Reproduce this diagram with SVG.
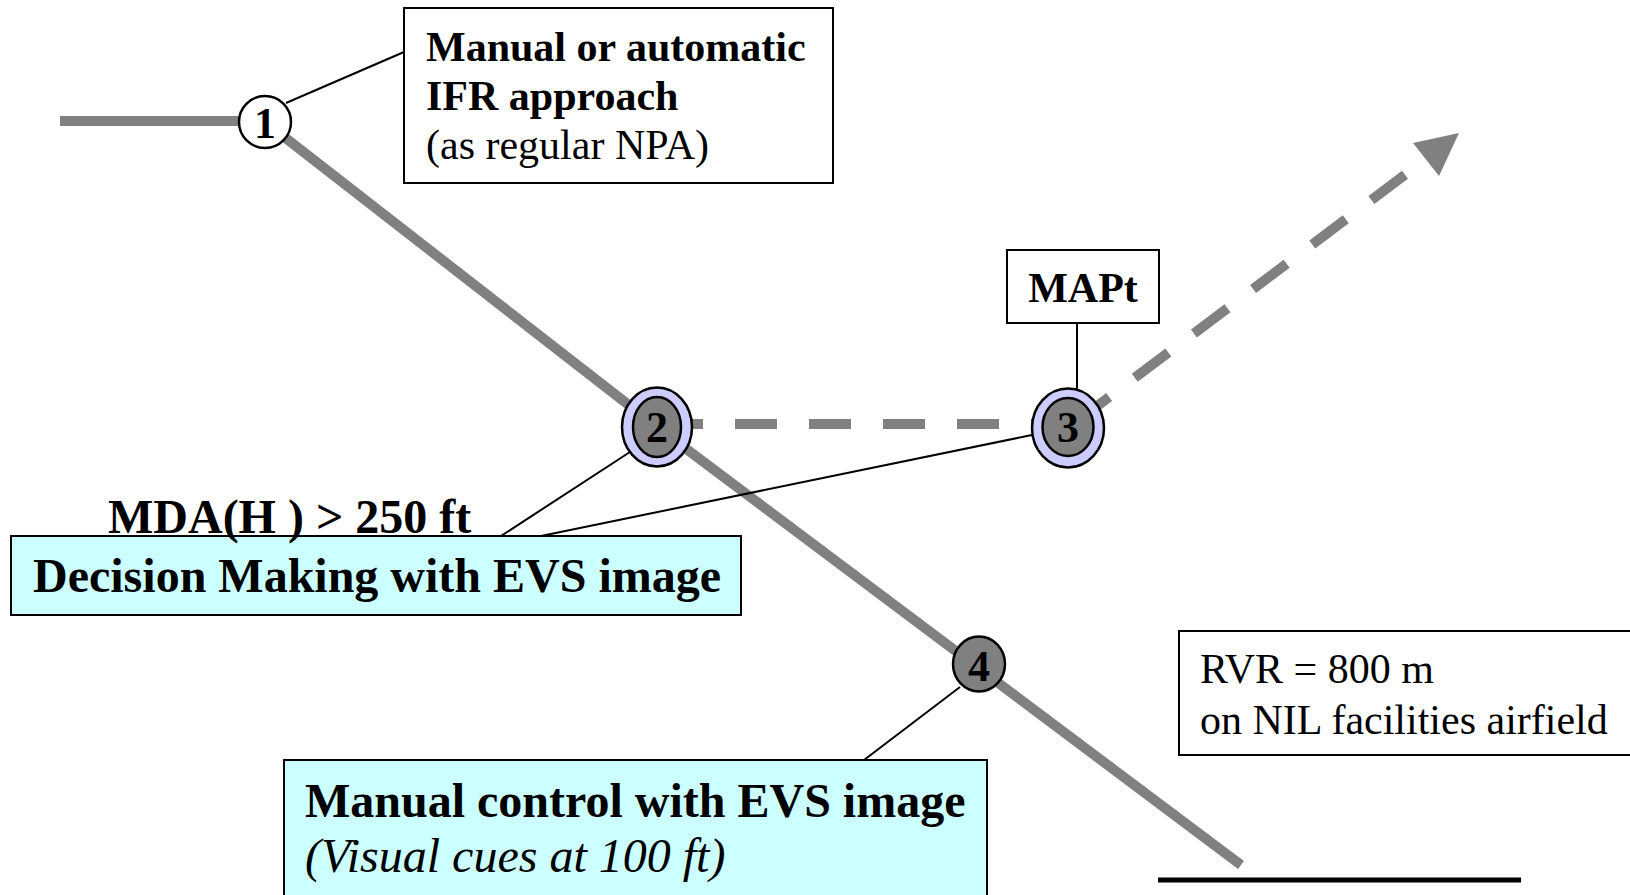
<svg xmlns="http://www.w3.org/2000/svg" width="1630" height="895" viewBox="0 0 1630 895">
<style>
.path{fill:none;stroke:#808080;stroke-width:10}
.dash{fill:none;stroke:#808080;stroke-width:10;stroke-dasharray:42 32}
.conn{fill:none;stroke:#000;stroke-width:2}
.box{fill:#fff;stroke:#000;stroke-width:2}
.cbox{fill:#CCFFFF;stroke:#000;stroke-width:2}
.t{font-family:"Liberation Serif","Times New Roman",serif;fill:#000}
.b{font-weight:bold}
.num{font-family:"Liberation Serif","Times New Roman",serif;font-weight:bold;font-size:44px;text-anchor:middle}
.outer{fill:#CCCCFF;stroke:#000;stroke-width:2.5}
.inner{fill:#808080;stroke:#000;stroke-width:2.5}
</style>
<rect width="1630" height="895" fill="#fff"/>
<g id="flight-path">
<line class="path" x1="60" y1="121" x2="245" y2="121"/>
<polyline class="path" points="265,122 657,427 1241,865"/>
<line x1="1158" y1="880" x2="1521" y2="880" stroke="#000" stroke-width="5"/>
</g>
<g id="connectors">
<line class="dash" x1="661" y1="424" x2="1040" y2="424"/>
<line class="dash" x1="1075.6" y1="422.3" x2="1426" y2="159"/>
<polygon points="1413,143 1459,133 1439,176" fill="#808080"/>
<line class="conn" x1="286" y1="103" x2="404" y2="52"/>
<line class="conn" x1="1077" y1="323" x2="1077" y2="390"/>
<line class="conn" x1="501" y1="536" x2="630" y2="452"/>
<line class="conn" x1="541" y1="536" x2="1032" y2="435"/>
<line class="conn" x1="864" y1="760" x2="960" y2="687"/>
</g>
<g id="node1">
<ellipse cx="265" cy="122" rx="26" ry="26" fill="#fff" stroke="#000" stroke-width="2.5"/>
<text class="num" x="265" y="138">1</text>
</g>
<g id="node2">
<ellipse class="outer" cx="657" cy="427" rx="35" ry="39.5"/>
<ellipse class="inner" cx="657" cy="427" rx="24" ry="30"/>
<text class="num" x="657" y="442">2</text>
</g>
<g id="node3">
<ellipse class="outer" cx="1068" cy="428" rx="36" ry="39.5"/>
<ellipse class="inner" cx="1068" cy="427" rx="25.5" ry="29"/>
<text class="num" x="1068" y="442">3</text>
</g>
<g id="node4">
<ellipse class="inner" cx="979" cy="664" rx="26" ry="27.5"/>
<text class="num" x="979" y="681">4</text>
</g>
<g id="box-ifr">
<rect class="box" x="404" y="8" width="429" height="175"/>
<text class="t b" x="426" y="61" font-size="42">Manual or automatic</text>
<text class="t b" x="426" y="110" font-size="42">IFR approach</text>
<text class="t" x="426" y="159" font-size="42">(as regular NPA)</text>
</g>
<g id="box-mapt">
<rect class="box" x="1007" y="250" width="152" height="73"/>
<text class="t b" x="1083" y="302" font-size="42" text-anchor="middle">MAPt</text>
</g>
<g id="box-rvr">
<rect class="box" x="1179" y="631" width="470" height="124"/>
<text class="t" x="1200" y="683" font-size="42">RVR = 800 m</text>
<text class="t" x="1200" y="734" font-size="42">on NIL facilities airfield</text>
</g>
<g id="box-decision">
<rect class="cbox" x="11" y="536" width="730" height="79"/>
<text class="t b" x="33" y="592" font-size="48">Decision Making with EVS image</text>
<text class="t b" x="108" y="533" font-size="48">MDA(H ) &gt; 250 ft</text>
</g>
<g id="box-manual">
<rect class="cbox" x="284" y="760" width="703" height="150"/>
<text class="t b" x="305" y="817" font-size="48">Manual control with EVS image</text>
<text class="t" x="305" y="872" font-size="48" font-style="italic">(Visual cues at 100 ft)</text>
</g>
</svg>
